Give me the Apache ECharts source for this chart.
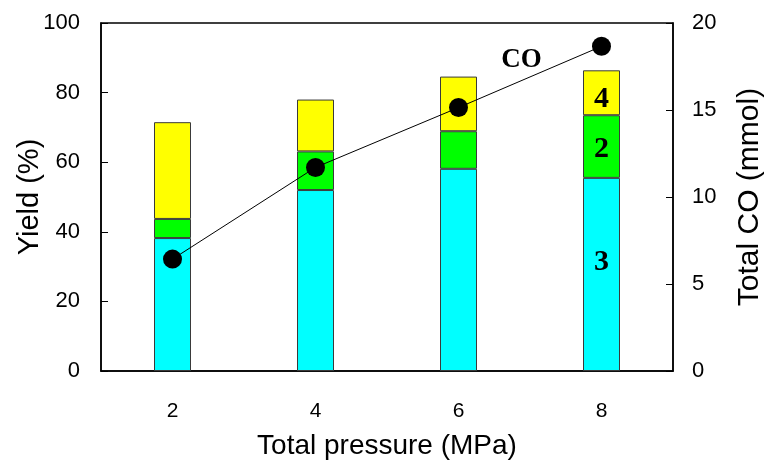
<!DOCTYPE html>
<html><head><meta charset="utf-8">
<script src="https://cdn.jsdelivr.net/npm/echarts@6/dist/echarts.min.js"></script>
<style>html,body{margin:0;padding:0;background:#fff}#c{width:767px;height:461px}</style>
</head><body><div id="c"></div>
<script>
const categories = ['2', '4', '6', '8'];
const yield3 = [38.2, 52.0, 58.1, 55.5];
const yield2 = [5.5, 11.1, 10.8, 18.0];
const yield4 = [27.8, 14.9, 15.7, 12.9];
const totalCO = [6.43, 11.7, 15.14, 18.66];
const segLabels = { s3: '3', s2: '2', s4: '4' };

const chart = echarts.init(document.getElementById('c'));
const font = 'Liberation Sans, Arial, sans-serif';
const serif = 'Liberation Serif, Times New Roman, serif';
const bw = 37;
const border = { borderColor: '#3a3a3a', borderWidth: 1 };
function lbl(text, offY) {
  return { show: true, formatter: text, position: 'inside', offset: [0, offY],
    fontFamily: serif, fontWeight: 'bold', fontSize: 30, color: '#000' };
}
function mk(arr, text, offY) {
  return arr.map((v, i) => i === 3 ? { value: v, label: lbl(text, offY) } : v);
}
chart.setOption({
  animation: false,
  grid: { left: 101, right: 94, top: 23, bottom: 90, containLabel: false, outerBoundsMode: 'none',
    show: true, borderColor: '#000', borderWidth: 1.5, backgroundColor: 'transparent' },
  xAxis: {
    type: 'category', data: categories,
    name: 'Total pressure (MPa)', nameLocation: 'middle', nameGap: 61, nameMoveOverlap: false,
    nameTextStyle: { fontFamily: font, fontSize: 28, color: '#000' },
    axisLine: { lineStyle: { color: '#000', width: 1.5 } },
    axisTick: { inside: true, length: 7, lineStyle: { color: '#000' } },
    axisLabel: { margin: 30, fontFamily: font, fontSize: 21, color: '#000' },
    splitLine: { show: false }
  },
  yAxis: [{
    type: 'value', min: 0, max: 100, interval: 20,
    name: 'Yield (%)', nameLocation: 'middle', nameGap: 57, nameRotate: 90, nameMoveOverlap: false,
    nameTextStyle: { fontFamily: font, fontSize: 29, color: '#000' },
    axisLine: { show: true, lineStyle: { color: '#000', width: 1.5 } },
    axisTick: { show: true, inside: true, length: 7, lineStyle: { color: '#000' } },
    axisLabel: { margin: 21, fontFamily: font, fontSize: 22, color: '#000' },
    splitLine: { show: false }
  }, {
    type: 'value', min: 0, max: 20, interval: 5, position: 'right',
    name: 'Total CO (mmol)', nameLocation: 'middle', nameGap: 62, nameRotate: 90, nameMoveOverlap: false,
    nameTextStyle: { fontFamily: font, fontSize: 30, color: '#000' },
    axisLine: { show: true, lineStyle: { color: '#000', width: 1.5 } },
    axisTick: { show: true, inside: true, length: 7, lineStyle: { color: '#000' } },
    axisLabel: { margin: 19, fontFamily: font, fontSize: 22, color: '#000' },
    splitLine: { show: false }
  }],
  series: [
    { type: 'bar', stack: 'y', barWidth: bw, data: mk(yield3, segLabels.s3, -12), itemStyle: Object.assign({ color: '#00FFFF' }, border) },
    { type: 'bar', stack: 'y', barWidth: bw, data: mk(yield2, segLabels.s2, 3), itemStyle: Object.assign({ color: '#00FF00' }, border) },
    { type: 'bar', stack: 'y', barWidth: bw, data: mk(yield4, segLabels.s4, 6), itemStyle: Object.assign({ color: '#FFFF00' }, border) },
    { type: 'line', yAxisIndex: 1, symbol: 'circle', symbolSize: 19,
      lineStyle: { color: '#000', width: 1 }, itemStyle: { color: '#000' },
      data: totalCO.map((v, i) => i === 2 ? { value: v, label: { show: true, formatter: 'CO', position: 'inside', offset: [63, -48], fontFamily: serif, fontWeight: 'bold', fontSize: 27, color: '#000' } } : v),
      z: 5 }
  ]
});
</script></body></html>
